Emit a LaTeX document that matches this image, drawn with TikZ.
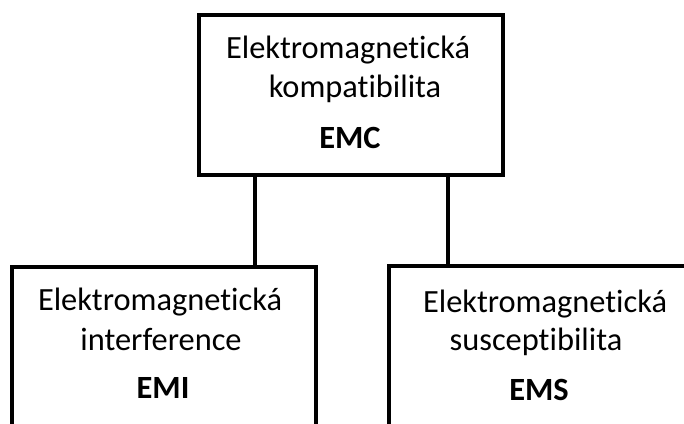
\documentclass[tikz,border=0pt]{standalone}
\usepackage{fontspec}
\setmainfont{Carlito}[Ligatures={NoCommon,NoContextual}]
\begin{document}
\begin{tikzpicture}[x=1pt,y=-1pt,
  box/.style={draw=black, line width=4pt, fill=white, inner sep=0pt},
  wire/.style={draw=black, line width=4pt},
  lbl/.style={anchor=base, inner sep=0pt, font=\fontsize{32.4}{38}\selectfont},
  abbr/.style={lbl, font=\fontsize{32.4}{38}\selectfont\bfseries}]
\useasboundingbox (0,0) rectangle (684,423);
\clip (0,0) rectangle (684,423);
% boxes
\node[box, minimum width=304pt, minimum height=160pt] (emc) at (351,95) {};
\node[box, minimum width=304pt, minimum height=220pt] (emi) at (164,377) {};
\node[box, minimum width=320pt, minimum height=220pt] (ems) at (549,376) {};
% connectors from the top box down to the two lower boxes
\draw[wire] ([xshift=58pt]emc.south west) -- ([xshift=58pt]emc.south west |- emi.north);
\draw[wire] ([xshift=-57pt]emc.south east) -- ([xshift=-57pt]emc.south east |- ems.north);
% texts
\node[lbl] (emc1) at (348,58) {Elektromagnetická};
\node[lbl] (emc2) at (355,97) {kompatibilita};
\node[abbr] (emc3) at (350,148) {EMC};
\node[lbl] (emi1) at (160,310) {Elektromagnetická};
\node[lbl] (emi2) at (161,350) {interference};
\node[abbr] (emi3) at (163,398) {EMI};
\node[lbl] (ems1) at (545,312) {Elektromagnetická};
\node[lbl] (ems2) at (536,350) {susceptibilita};
\node[abbr] (ems3) at (539,400) {EMS};
\end{tikzpicture}
\end{document}
